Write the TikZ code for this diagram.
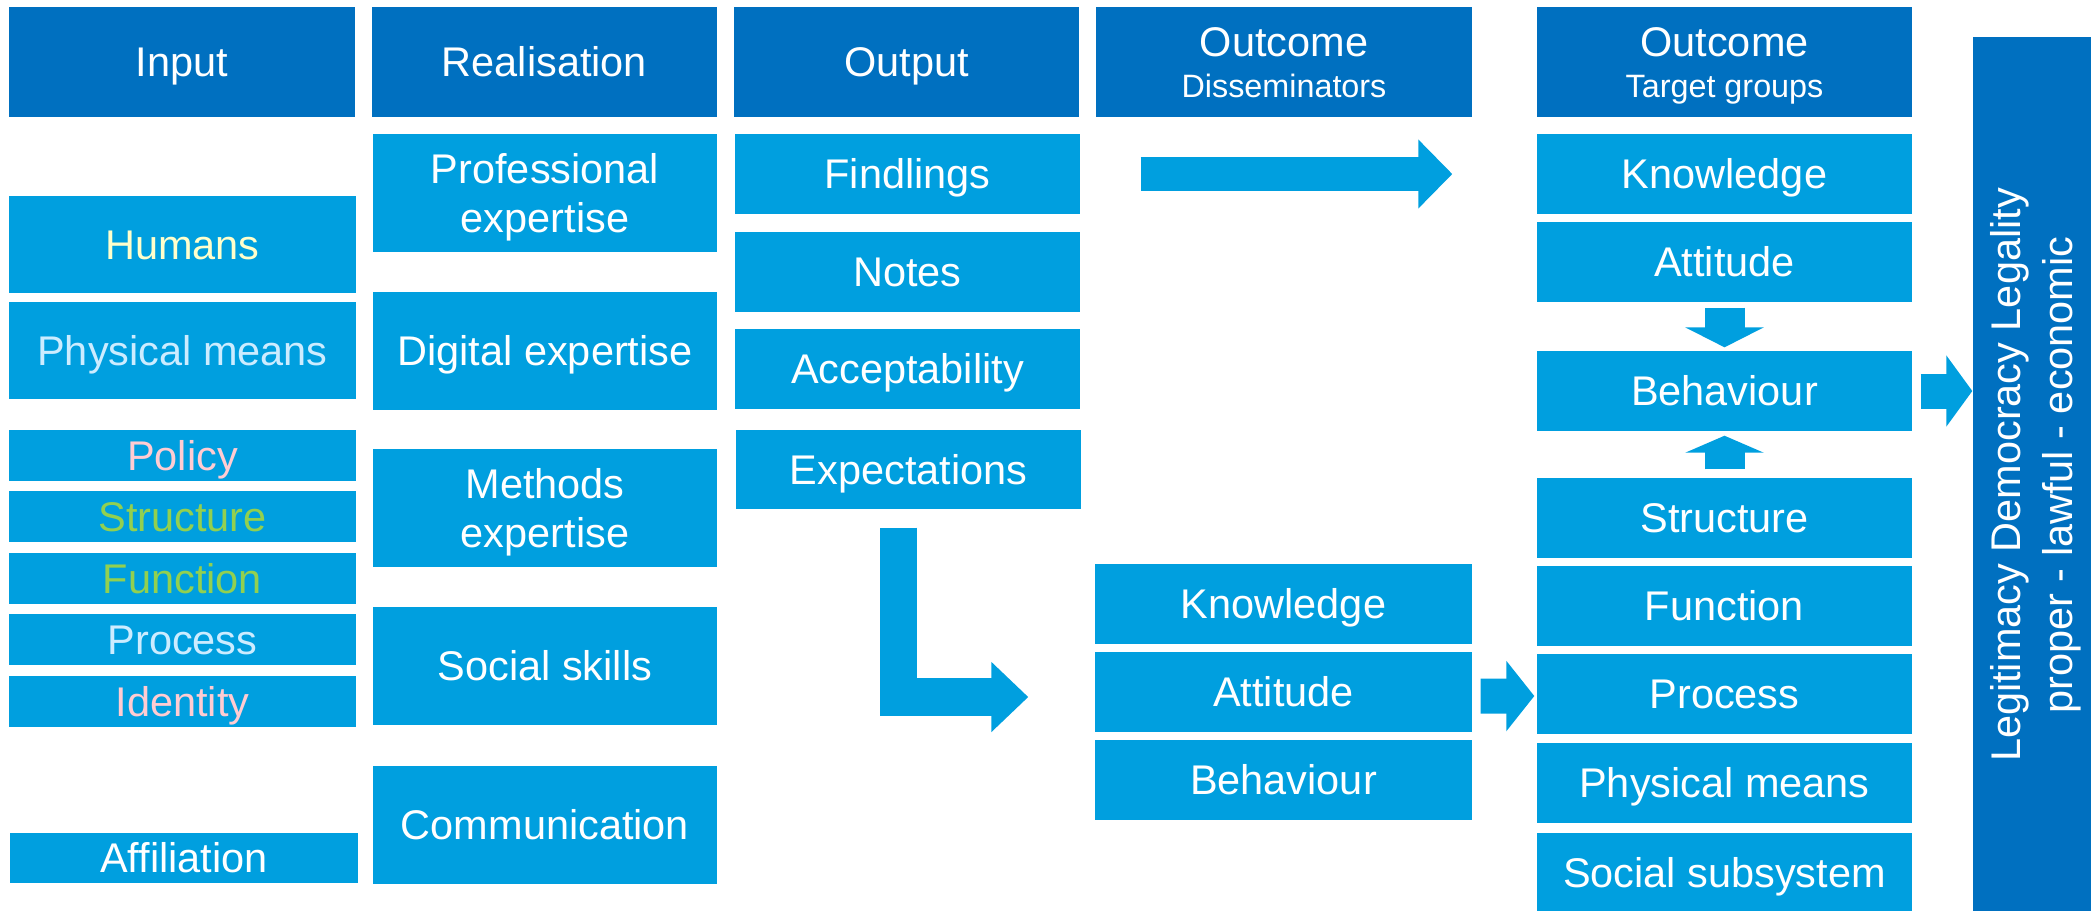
\documentclass[tikz,border=0pt]{standalone}
\usepackage{fontspec}
\setmainfont{Liberation Sans}
\usetikzlibrary{arrows.meta}
\definecolor{dblue}{HTML}{0070C0}
\definecolor{lblue}{HTML}{009FDF}
\definecolor{pyellow}{HTML}{FFFFCC}
\definecolor{ppink}{HTML}{FFCCD2}
\definecolor{pgreen}{HTML}{92D050}
\definecolor{pcyan}{HTML}{CCECFF}
\newcommand{\fmain}{\fontsize{11.8}{13.9}\selectfont}
\newcommand{\fbar}{\fontsize{11.8}{14.8}\selectfont}
\newcommand{\fsub}{\fontsize{9.2}{11}\selectfont}
\newcommand{\tp}{\rule{0pt}{11pt}}
\newcommand{\bt}{\rule[-2.55pt]{0pt}{0pt}}
\begin{document}
\begin{tikzpicture}[x=0.1mm,y=-0.1mm,
  box/.style={fill=lblue,text=white,inner sep=0pt,align=center,font=\fmain,minimum height=8mm,
    execute at begin node=\tp,execute at end node=\bt},
  head/.style={box,fill=dblue,minimum height=11mm},
  blk/.style={draw=lblue,line width=#1}]
\useasboundingbox (0,0) rectangle (2091,910);
\node[head,minimum width=34.6mm] (hin) at (182,62) {Input};
\node[head,minimum width=34.5mm] (hre) at (544.5,62) {Realisation};
\node[head,minimum width=34.5mm] (hou) at (906.5,62) {Output};
\node[head,minimum width=37.6mm] (hdi) at (1284,62) {\tp Outcome\\[-2.3pt]{\fsub Disseminators}};
\node[head,minimum width=37.5mm] (htg) at (1724.5,62) {\tp Outcome\\[-2.3pt]{\fsub Target groups}};
\node[box,minimum width=34.7mm,minimum height=9.7mm,text=pyellow] (in1) at (182.5,244.5) {Humans};
\node[box,minimum width=34.7mm,minimum height=9.7mm,text=pcyan] (in2) at (182.5,350.5) {Physical means};
\node[box,minimum width=34.7mm,minimum height=5.1mm,text=ppink] (in3) at (182.5,455.5) {Policy};
\node[box,minimum width=34.7mm,minimum height=5.1mm,text=pgreen] (in4) at (182.5,516.5) {Structure};
\node[box,minimum width=34.7mm,minimum height=5.1mm,text=pgreen] (in5) at (182.5,578.5) {Function};
\node[box,minimum width=34.7mm,minimum height=5.1mm,text=pcyan] (in6) at (182.5,639.5) {Process};
\node[box,minimum width=34.7mm,minimum height=5.1mm,text=ppink] (in7) at (182.5,701.5) {Identity};
\node[box,minimum width=34.8mm,minimum height=5mm] (in8) at (184,858) {Affiliation};
\node[box,minimum width=34.4mm,minimum height=11.8mm] (re1) at (545,193) {\tp Professional\\expertise};
\node[box,minimum width=34.4mm,minimum height=11.8mm] (re2) at (545,350.5) {Digital expertise};
\node[box,minimum width=34.4mm,minimum height=11.8mm] (re3) at (545,508) {\tp Methods\\expertise};
\node[box,minimum width=34.4mm,minimum height=11.8mm] (re4) at (545,665.5) {Social skills};
\node[box,minimum width=34.4mm,minimum height=11.8mm] (re5) at (545,824.5) {Communication};
\node[box,minimum width=34.5mm] (ou1) at (907.5,174) {Findlings};
\node[box,minimum width=34.5mm] (ou2) at (907.5,272) {Notes};
\node[box,minimum width=34.5mm] (ou3) at (907.5,369) {Acceptability};
\node[box,minimum width=34.5mm,minimum height=7.9mm] (ou4) at (908.5,469.5) {Expectations};
\node[box,minimum width=37.7mm] (di1) at (1283.5,604) {Knowledge};
\node[box,minimum width=37.7mm] (di2) at (1283.5,692) {Attitude};
\node[box,minimum width=37.7mm] (di3) at (1283.5,780) {Behaviour};
\node[box,minimum width=37.5mm] (tg1) at (1724.5,174) {Knowledge};
\node[box,minimum width=37.5mm] (tg2) at (1724.5,262) {Attitude};
\node[box,minimum width=37.5mm] (tg3) at (1724.5,391) {Behaviour};
\node[box,minimum width=37.5mm] (tg4) at (1724.5,518) {Structure};
\node[box,minimum width=37.5mm] (tg5) at (1724.5,606) {Function};
\node[box,minimum width=37.5mm] (tg6) at (1724.5,694) {Process};
\node[box,minimum width=37.5mm] (tg7) at (1724.5,783) {Physical means};
\node[box,minimum width=37.5mm] (tg8) at (1724.5,873) {Social subsystem};
\node[box,fill=dblue,font=\fbar,rotate=90,minimum width=87.6mm,minimum height=11.8mm] (leg) at (2032,475) {\tp Legitimacy Democracy Legality\\proper - lawful - economic};
\draw[blk=3.4mm,-{Triangle[length=3.4mm 0 0,width=6.7mm 0 0]}] ([xshift=6mm]ou1.east) -- ([xshift=-8.4mm]tg1.west);
\draw[blk=3.75mm,-{Triangle[length=3.7mm 0 0,width=6.8mm 0 0]}] ([xshift=-1mm,yshift=-1.8mm]ou4.south) |- ([xshift=-6.6mm,yshift=-0.5mm]di2.west);
\draw[blk=3.5mm,-{Triangle[length=2.8mm 0 0,width=6.9mm 0 0]}] ([xshift=0.8mm,yshift=-0.4mm]di2.east) -- ([xshift=-0.2mm,yshift=-0.2mm]tg6.west);
\draw[blk=3.5mm,-{Triangle[length=2.6mm 0 0,width=7mm 0 0]}] ([xshift=0.8mm]tg3.east) -- (tg3.east -| leg.north);
\draw[blk=4mm,-{Triangle[length=2mm 0 0,width=7.8mm 0 0]}] ([yshift=-0.5mm]tg2.south) -- ([yshift=0.3mm]tg3.north);
\draw[blk=4mm,-{Triangle[length=1.7mm 0 0,width=7.8mm 0 0]}] ([yshift=0.8mm]tg4.north) -- ([yshift=-0.4mm]tg3.south);
\end{tikzpicture}
\end{document}
